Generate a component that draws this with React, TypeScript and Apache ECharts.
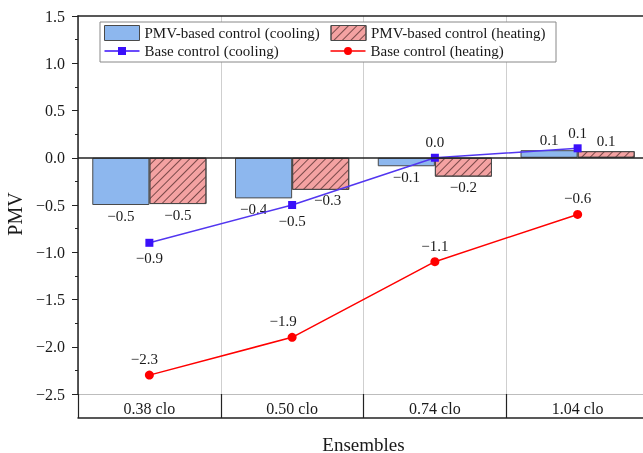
import React, { useEffect, useRef } from "react";
import * as echarts from "echarts";

const categories = ["0.38 clo", "0.50 clo", "0.74 clo", "1.04 clo"];
const pmvCooling = [-0.5, -0.43, -0.09, 0.08];
const pmvHeating = [-0.49, -0.34, -0.2, 0.07];
const baseCooling = [-0.9, -0.5, 0.0, 0.1];
const baseHeating = [-2.3, -1.9, -1.1, -0.6];
const seriesNames = [
  "PMV-based control (cooling)",
  "PMV-based control (heating)",
  "Base control (cooling)",
  "Base control (heating)",
];

const FONT = "'Liberation Serif', 'Times New Roman', serif";
const TXT = "#1a1a1a";
const fmt = (v: number) => v.toFixed(1).replace("-", "\u2212");

export default function App() {
  const ref = useRef<HTMLDivElement>(null);
  useEffect(() => {
    if (!ref.current) return;
    const chart = echarts.init(ref.current, undefined, { renderer: "svg" });
    const labelBase = { show: true, color: TXT, fontSize: 15, fontFamily: FONT, distance: 3, formatter: (p: any) => fmt(p.value) };
    // small horizontal nudges so bar labels clear the lines (as in the reference)
    const coolNudge = [0, -10, 0, 0];
    const heatNudge = [0, 7, 0, 0];
    const barData = (arr: number[], nudge: number[]) =>
      arr.map((v, i) => ({ value: v, label: { position: v < 0 ? "bottom" : "top", offset: [nudge[i], 0] } }));
    const hideAxis = {
      type: "category",
      data: categories,
      axisTick: { show: false },
      axisLabel: { show: false },
      splitLine: { show: false },
    };
    chart.setOption({
      animation: false,
      textStyle: { fontFamily: FONT },
      grid: { left: 78, right: -6, top: 16, bottom: 59, outerBoundsMode: "none", containLabel: false },
      legend: {
        left: 100,
        top: 22,
        width: 452,
        padding: [3, 1, 3, 4],
        itemGap: 2,
        itemWidth: 35,
        itemHeight: 15,
        borderColor: "#888",
        borderWidth: 1,
        backgroundColor: "#fff",
        textStyle: { fontSize: 15, color: TXT, fontFamily: FONT, width: 184, lineHeight: 16 },
        data: [
          { name: seriesNames[0], icon: "rect", itemStyle: { borderWidth: 1 } },
          { name: seriesNames[1], icon: "rect", itemStyle: { borderWidth: 1 } },
          { name: seriesNames[2], icon: "path://M0 3.25H35V4.75H0Z M13.5 0H21.5V8H13.5Z", itemStyle: { borderWidth: 0 } },
          { name: seriesNames[3], icon: "path://M0 3.25H35V4.75H0Z M13.5 4A4 4 0 1 1 21.5 4A4 4 0 1 1 13.5 4Z", itemStyle: { borderWidth: 0 } },
        ],
      },
      xAxis: [
        {
          type: "category",
          data: categories,
          position: "bottom",
          axisLine: { onZero: false, lineStyle: { color: "#bdbdbd", width: 1 } },
          axisTick: { show: true, interval: 0, length: 24, lineStyle: { color: "#222", width: 1.2 } },
          axisLabel: { color: TXT, fontSize: 16, fontFamily: FONT, margin: 5, lineHeight: 18, interval: 0 },
          splitLine: { show: true, interval: 0, lineStyle: { color: "#cfcfcf", width: 1 } },
        },
        {
          ...hideAxis,
          position: "bottom",
          offset: 24,
          axisLine: { onZero: false, lineStyle: { color: "#222", width: 1.5 } },
          name: "Ensembles",
          nameLocation: "middle",
          nameGap: 18,
          nameTextStyle: { fontSize: 19, color: TXT, fontFamily: FONT, lineHeight: 16 },
        },
        {
          ...hideAxis,
          position: "top",
          axisLine: { onZero: false, lineStyle: { color: "#222", width: 1.5 } },
        },
      ],
      yAxis: {
        type: "value",
        min: -2.5,
        max: 1.5,
        interval: 0.5,
        axisLine: { show: true, onZero: false, lineStyle: { color: "#222", width: 1.5 } },
        axisTick: { show: true, length: 6, lineStyle: { color: "#222" } },
        minorTick: { show: true, splitNumber: 2, length: 3, lineStyle: { color: "#222" } },
        splitLine: { show: false },
        axisLabel: { color: TXT, fontSize: 16, fontFamily: FONT, margin: 13, formatter: (v: number) => fmt(v) },
        name: "PMV",
        nameLocation: "middle",
        nameGap: 50,
        nameTextStyle: { fontSize: 20, color: TXT, fontFamily: FONT, padding: [0, 18, 0, 0] },
      },
      series: [
        {
          name: seriesNames[0],
          type: "bar",
          data: barData(pmvCooling, coolNudge),
          barWidth: "40%",
          barGap: "0%",
          itemStyle: { color: "#8DB7EE", borderColor: "#4a4a4a", borderWidth: 1 },
          label: labelBase,
          markLine: {
            silent: true,
            symbol: ["none", "none"],
            label: { show: false },
            lineStyle: { color: "#222", width: 1.5, type: "solid" },
            data: [{ yAxis: 0 }],
          },
        },
        {
          name: seriesNames[1],
          type: "bar",
          data: barData(pmvHeating, heatNudge),
          barWidth: "40%",
          barGap: "0%",
          itemStyle: {
            color: "#F4A2A2",
            borderColor: "#4a4a4a",
            borderWidth: 1,
            decal: {
              symbol: "rect",
              symbolSize: 1,
              color: "rgba(90,50,50,0.8)",
              dashArrayX: [1, 0],
              dashArrayY: [1, 5],
              rotation: -Math.PI / 4,
            },
          },
          label: labelBase,
        },
        {
          name: seriesNames[2],
          type: "line",
          data: baseCooling.map((v, i) => ({ value: v, label: { position: i < 2 ? "bottom" : "top" } })),
          symbol: "rect",
          symbolSize: 8,
          itemStyle: { color: "#3A10FA" },
          lineStyle: { color: "#5236F0", width: 1.5 },
          label: { ...labelBase, distance: 4 },
          z: 3,
        },
        {
          name: seriesNames[3],
          type: "line",
          data: baseHeating.map((v, i) => ({ value: v, label: { offset: [i === 0 ? -5 : i === 1 ? -9 : 0, 0] } })),
          symbol: "circle",
          symbolSize: 9,
          itemStyle: { color: "#FF0000" },
          lineStyle: { color: "#FF0000", width: 1.5 },
          label: { ...labelBase, position: "top", distance: 4 },
          z: 3,
        },
      ],
    });
    return () => chart.dispose();
  }, []);
  return <div ref={ref} style={{ position: "fixed", left: 0, top: 0, width: 643, height: 453 }} />;
}
